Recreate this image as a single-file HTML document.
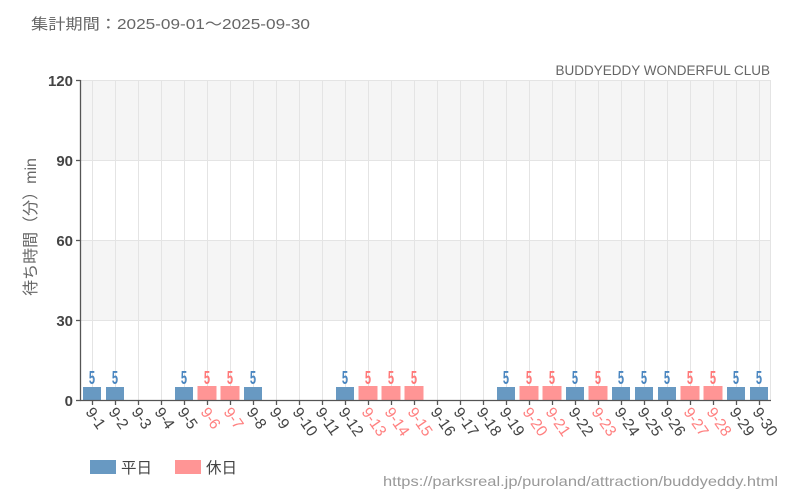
<!DOCTYPE html>
<html><head><meta charset="utf-8"><style>
html,body{margin:0;padding:0;background:#fff;}
svg{display:block;font-family:"Liberation Sans","Noto Sans CJK JP",sans-serif;}
.xt{font-size:15.5px;fill:#444;}
.xh{font-size:15.5px;fill:#ff8080;}
.yt{font-size:15px;fill:#444;font-weight:bold;text-anchor:end;}
.lw{font-size:18.5px;fill:#4a86c0;text-anchor:middle;font-weight:bold;}
.lh{font-size:18.5px;fill:#ff7878;text-anchor:middle;font-weight:bold;}
</style></head><body>
<svg width="800" height="500" viewBox="0 0 800 500" xmlns="http://www.w3.org/2000/svg">
<rect width="800" height="500" fill="#fff"/>
<text x="31" y="29" font-size="15" fill="#666" textLength="279" lengthAdjust="spacingAndGlyphs">集計期間：2025-09-01～2025-09-30</text>
<text x="770" y="75" font-size="13.5" fill="#666" text-anchor="end">BUDDYEDDY WONDERFUL CLUB</text>
<!-- bands -->
<rect x="80.5" y="80" width="690" height="80" fill="#f5f5f5"/>
<rect x="80.5" y="240" width="690" height="80" fill="#f5f5f5"/>
<g stroke="#e4e4e4" stroke-width="1">
<line x1="80.5" y1="80.5" x2="770.5" y2="80.5"/>
<line x1="80.5" y1="160.5" x2="770.5" y2="160.5"/>
<line x1="80.5" y1="240.5" x2="770.5" y2="240.5"/>
<line x1="80.5" y1="320.5" x2="770.5" y2="320.5"/>
<line x1="92.5" y1="80" x2="92.5" y2="400"/><line x1="115.5" y1="80" x2="115.5" y2="400"/><line x1="138.5" y1="80" x2="138.5" y2="400"/><line x1="161.5" y1="80" x2="161.5" y2="400"/><line x1="184.5" y1="80" x2="184.5" y2="400"/><line x1="207.5" y1="80" x2="207.5" y2="400"/><line x1="230.5" y1="80" x2="230.5" y2="400"/><line x1="253.5" y1="80" x2="253.5" y2="400"/><line x1="276.5" y1="80" x2="276.5" y2="400"/><line x1="299.5" y1="80" x2="299.5" y2="400"/><line x1="322.5" y1="80" x2="322.5" y2="400"/><line x1="345.5" y1="80" x2="345.5" y2="400"/><line x1="368.5" y1="80" x2="368.5" y2="400"/><line x1="391.5" y1="80" x2="391.5" y2="400"/><line x1="414.5" y1="80" x2="414.5" y2="400"/><line x1="437.5" y1="80" x2="437.5" y2="400"/><line x1="460.5" y1="80" x2="460.5" y2="400"/><line x1="483.5" y1="80" x2="483.5" y2="400"/><line x1="506.5" y1="80" x2="506.5" y2="400"/><line x1="529.5" y1="80" x2="529.5" y2="400"/><line x1="552.5" y1="80" x2="552.5" y2="400"/><line x1="575.5" y1="80" x2="575.5" y2="400"/><line x1="598.5" y1="80" x2="598.5" y2="400"/><line x1="621.5" y1="80" x2="621.5" y2="400"/><line x1="644.5" y1="80" x2="644.5" y2="400"/><line x1="667.5" y1="80" x2="667.5" y2="400"/><line x1="690.5" y1="80" x2="690.5" y2="400"/><line x1="713.5" y1="80" x2="713.5" y2="400"/><line x1="736.5" y1="80" x2="736.5" y2="400"/><line x1="759.5" y1="80" x2="759.5" y2="400"/>
<line x1="770.5" y1="80" x2="770.5" y2="400"/>
</g>
<!-- bars -->
<g fill="#6899c2">
<rect x="83" y="387" width="18" height="13"/><rect x="106" y="387" width="18" height="13"/><rect x="175" y="387" width="18" height="13"/><rect x="244" y="387" width="18" height="13"/><rect x="336" y="387" width="18" height="13"/><rect x="497" y="387" width="18" height="13"/><rect x="566" y="387" width="18" height="13"/><rect x="612" y="387" width="18" height="13"/><rect x="635" y="387" width="18" height="13"/><rect x="658" y="387" width="18" height="13"/><rect x="727" y="387" width="18" height="13"/><rect x="750" y="387" width="18" height="13"/>
</g>
<g fill="#ff9595">
<rect x="197.5" y="386" width="19" height="14"/><rect x="220.5" y="386" width="19" height="14"/><rect x="358.5" y="386" width="19" height="14"/><rect x="381.5" y="386" width="19" height="14"/><rect x="404.5" y="386" width="19" height="14"/><rect x="519.5" y="386" width="19" height="14"/><rect x="542.5" y="386" width="19" height="14"/><rect x="588.5" y="386" width="19" height="14"/><rect x="680.5" y="386" width="19" height="14"/><rect x="703.5" y="386" width="19" height="14"/>
</g>
<!-- bar labels -->
<text class="lw" transform="translate(92,384) scale(0.6,1)">5</text>
<text class="lw" transform="translate(115,384) scale(0.6,1)">5</text>
<text class="lw" transform="translate(184,384) scale(0.6,1)">5</text>
<text class="lh" transform="translate(207,384) scale(0.6,1)">5</text>
<text class="lh" transform="translate(230,384) scale(0.6,1)">5</text>
<text class="lw" transform="translate(253,384) scale(0.6,1)">5</text>
<text class="lw" transform="translate(345,384) scale(0.6,1)">5</text>
<text class="lh" transform="translate(368,384) scale(0.6,1)">5</text>
<text class="lh" transform="translate(391,384) scale(0.6,1)">5</text>
<text class="lh" transform="translate(414,384) scale(0.6,1)">5</text>
<text class="lw" transform="translate(506,384) scale(0.6,1)">5</text>
<text class="lh" transform="translate(529,384) scale(0.6,1)">5</text>
<text class="lh" transform="translate(552,384) scale(0.6,1)">5</text>
<text class="lw" transform="translate(575,384) scale(0.6,1)">5</text>
<text class="lh" transform="translate(598,384) scale(0.6,1)">5</text>
<text class="lw" transform="translate(621,384) scale(0.6,1)">5</text>
<text class="lw" transform="translate(644,384) scale(0.6,1)">5</text>
<text class="lw" transform="translate(667,384) scale(0.6,1)">5</text>
<text class="lh" transform="translate(690,384) scale(0.6,1)">5</text>
<text class="lh" transform="translate(713,384) scale(0.6,1)">5</text>
<text class="lw" transform="translate(736,384) scale(0.6,1)">5</text>
<text class="lw" transform="translate(759,384) scale(0.6,1)">5</text>
<!-- axes -->
<g stroke="#555" stroke-width="1.3">
<line x1="80.5" y1="80" x2="80.5" y2="401"/>
<line x1="80" y1="400.5" x2="771" y2="400.5"/>
<line x1="76" y1="80.5" x2="80.5" y2="80.5"/>
<line x1="76" y1="160.5" x2="80.5" y2="160.5"/>
<line x1="76" y1="240.5" x2="80.5" y2="240.5"/>
<line x1="76" y1="320.5" x2="80.5" y2="320.5"/>
<line x1="76" y1="400.5" x2="80.5" y2="400.5"/>
<line x1="92.5" y1="400" x2="92.5" y2="405"/><line x1="115.5" y1="400" x2="115.5" y2="405"/><line x1="138.5" y1="400" x2="138.5" y2="405"/><line x1="161.5" y1="400" x2="161.5" y2="405"/><line x1="184.5" y1="400" x2="184.5" y2="405"/><line x1="207.5" y1="400" x2="207.5" y2="405"/><line x1="230.5" y1="400" x2="230.5" y2="405"/><line x1="253.5" y1="400" x2="253.5" y2="405"/><line x1="276.5" y1="400" x2="276.5" y2="405"/><line x1="299.5" y1="400" x2="299.5" y2="405"/><line x1="322.5" y1="400" x2="322.5" y2="405"/><line x1="345.5" y1="400" x2="345.5" y2="405"/><line x1="368.5" y1="400" x2="368.5" y2="405"/><line x1="391.5" y1="400" x2="391.5" y2="405"/><line x1="414.5" y1="400" x2="414.5" y2="405"/><line x1="437.5" y1="400" x2="437.5" y2="405"/><line x1="460.5" y1="400" x2="460.5" y2="405"/><line x1="483.5" y1="400" x2="483.5" y2="405"/><line x1="506.5" y1="400" x2="506.5" y2="405"/><line x1="529.5" y1="400" x2="529.5" y2="405"/><line x1="552.5" y1="400" x2="552.5" y2="405"/><line x1="575.5" y1="400" x2="575.5" y2="405"/><line x1="598.5" y1="400" x2="598.5" y2="405"/><line x1="621.5" y1="400" x2="621.5" y2="405"/><line x1="644.5" y1="400" x2="644.5" y2="405"/><line x1="667.5" y1="400" x2="667.5" y2="405"/><line x1="690.5" y1="400" x2="690.5" y2="405"/><line x1="713.5" y1="400" x2="713.5" y2="405"/><line x1="736.5" y1="400" x2="736.5" y2="405"/><line x1="759.5" y1="400" x2="759.5" y2="405"/>
</g>
<!-- y ticks -->
<text class="yt" x="73" y="86">120</text>
<text class="yt" x="73" y="166">90</text>
<text class="yt" x="73" y="246">60</text>
<text class="yt" x="73" y="326">30</text>
<text class="yt" x="73" y="406" font-size="17">0</text>
<text transform="translate(36,227) rotate(-90)" font-size="16" fill="#666" text-anchor="middle">待ち時間（分）min</text>
<!-- x ticks -->
<text class="xt" transform="translate(85,412) rotate(55)">9-1</text>
<text class="xt" transform="translate(108,412) rotate(55)">9-2</text>
<text class="xt" transform="translate(131,412) rotate(55)">9-3</text>
<text class="xt" transform="translate(154,412) rotate(55)">9-4</text>
<text class="xt" transform="translate(177,412) rotate(55)">9-5</text>
<text class="xh" transform="translate(200,412) rotate(55)">9-6</text>
<text class="xh" transform="translate(223,412) rotate(55)">9-7</text>
<text class="xt" transform="translate(246,412) rotate(55)">9-8</text>
<text class="xt" transform="translate(269,412) rotate(55)">9-9</text>
<text class="xt" transform="translate(292,412) rotate(55)">9-10</text>
<text class="xt" transform="translate(315,412) rotate(55)">9-11</text>
<text class="xt" transform="translate(338,412) rotate(55)">9-12</text>
<text class="xh" transform="translate(361,412) rotate(55)">9-13</text>
<text class="xh" transform="translate(384,412) rotate(55)">9-14</text>
<text class="xh" transform="translate(407,412) rotate(55)">9-15</text>
<text class="xt" transform="translate(430,412) rotate(55)">9-16</text>
<text class="xt" transform="translate(453,412) rotate(55)">9-17</text>
<text class="xt" transform="translate(476,412) rotate(55)">9-18</text>
<text class="xt" transform="translate(499,412) rotate(55)">9-19</text>
<text class="xh" transform="translate(522,412) rotate(55)">9-20</text>
<text class="xh" transform="translate(545,412) rotate(55)">9-21</text>
<text class="xt" transform="translate(568,412) rotate(55)">9-22</text>
<text class="xh" transform="translate(591,412) rotate(55)">9-23</text>
<text class="xt" transform="translate(614,412) rotate(55)">9-24</text>
<text class="xt" transform="translate(637,412) rotate(55)">9-25</text>
<text class="xt" transform="translate(660,412) rotate(55)">9-26</text>
<text class="xh" transform="translate(683,412) rotate(55)">9-27</text>
<text class="xh" transform="translate(706,412) rotate(55)">9-28</text>
<text class="xt" transform="translate(729,412) rotate(55)">9-29</text>
<text class="xt" transform="translate(752,412) rotate(55)">9-30</text>
<!-- legend -->
<rect x="90" y="460" width="26" height="14" fill="#6899c2"/>
<text x="121" y="473" font-size="15.5" fill="#444">平日</text>
<rect x="175" y="460" width="26" height="14" fill="#ff9595"/>
<text x="206" y="473" font-size="15.5" fill="#444">休日</text>
<text x="383" y="486" font-size="14" fill="#999" textLength="395" lengthAdjust="spacingAndGlyphs">https://parksreal.jp/puroland/attraction/buddyeddy.html</text>
</svg>
</body></html>
